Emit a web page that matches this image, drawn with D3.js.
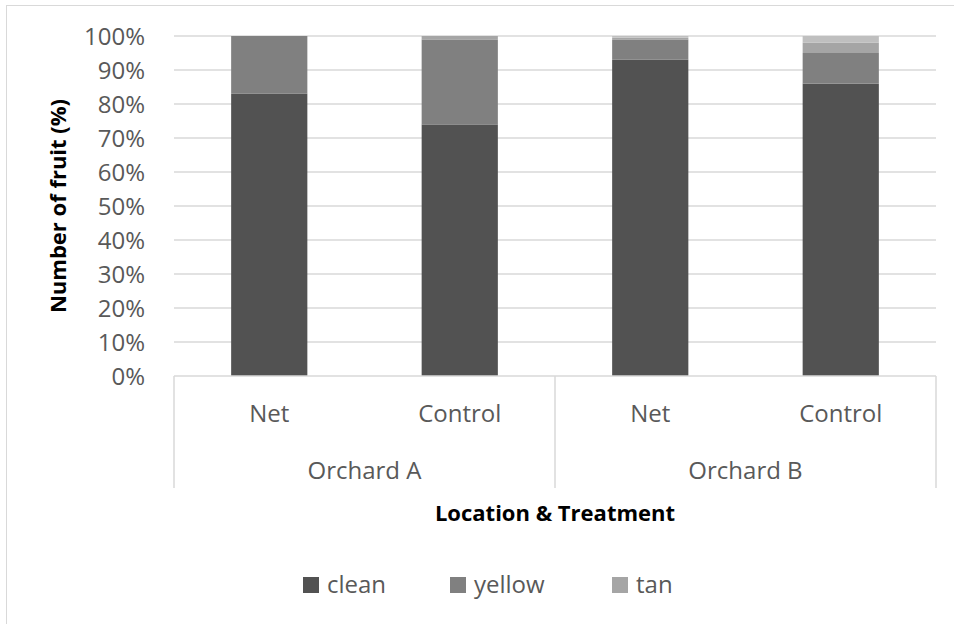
<!DOCTYPE html>
<html>
<head>
<meta charset="utf-8">
<script src="https://cdn.jsdelivr.net/npm/d3@7/dist/d3.min.js"></script>
<style>
  html, body { margin: 0; padding: 0; background: #fff; }
  svg { display: block; font-family: "Open Sans", sans-serif; }
</style>
</head>
<body>
<svg id="chart" width="954" height="624"></svg>
<script>
// Fruit condition by orchard and treatment (share of fruit, %)
const orchards = ["Orchard A", "Orchard B"];
const treatments = ["Net", "Control"];
const seriesNames = ["clean", "yellow", "tan", "other"];
const legendNames = ["clean", "yellow", "tan"];
const seriesColors = ["#525252", "#808080", "#a5a5a5", "#bfbfbf"];

const clean  = [83, 74, 93, 86];
const yellow = [17, 25, 6, 9];
const tan    = [0, 1, 0.5, 3];
const other  = [0, 0, 0.5, 2];

const yTicks = [0, 10, 20, 30, 40, 50, 60, 70, 80, 90, 100];

// one row per bar: orchard × treatment
const rows = [];
orchards.forEach((o, i) => treatments.forEach((t, j) => {
  const k = i * treatments.length + j;
  rows.push({ key: o + "|" + t, orchard: o, treatment: t,
    clean: clean[k], yellow: yellow[k], tan: tan[k], other: other[k] });
}));

const svg = d3.select("#chart");
const W = 954, H = 624;
const plot = { left: 174, right: 936, top: 36, bottom: 376 };

// outer chart border
svg.append("rect")
  .attr("x", 6.5).attr("y", 5.5)
  .attr("width", W + 10).attr("height", H + 10)
  .attr("fill", "none").attr("stroke", "#d9d9d9").attr("stroke-width", 1);

const x = d3.scaleBand()
  .domain(rows.map(d => d.key))
  .range([plot.left, plot.right])
  .paddingInner(0.6).paddingOuter(0.3);

const xGroup = d3.scaleBand()
  .domain(orchards)
  .range([plot.left, plot.right]);

const y = d3.scaleLinear().domain([0, 100]).range([plot.bottom, plot.top]);

// gridlines
svg.append("g")
  .selectAll("line")
  .data(yTicks.filter(t => t > 0))
  .join("line")
  .attr("x1", plot.left).attr("x2", plot.right)
  .attr("y1", d => y(d)).attr("y2", d => y(d))
  .attr("stroke", "#d9d9d9").attr("stroke-width", 1.5);

// y tick labels
const yAxis = d3.axisLeft(y).tickValues(yTicks).tickFormat(d => d + "%").tickSize(0).tickPadding(0);
const gy = svg.append("g").attr("transform", `translate(${plot.left - 29},0)`).call(yAxis);
gy.select(".domain").remove();
gy.selectAll("text")
  .attr("fill", "#595959")
  .style("font-size", "24px")
  .style("font-family", "'Open Sans', sans-serif")
  .attr("dy", "0.34em");

// stacked bars
const stack = d3.stack().keys(seriesNames);
const stacked = stack(rows);
const color = d3.scaleOrdinal().domain(seriesNames).range(seriesColors);

svg.append("g")
  .selectAll("g")
  .data(stacked)
  .join("g")
  .attr("fill", d => color(d.key))
  .selectAll("rect")
  .data(d => d)
  .join("rect")
  .attr("x", d => x(d.data.key))
  .attr("width", x.bandwidth())
  .attr("y", d => y(d[1]))
  .attr("height", d => Math.max(0, y(d[0]) - y(d[1])));

// category axis: baseline and group separators
const axisG = svg.append("g").attr("stroke", "#d9d9d9").attr("stroke-width", 1.5);
axisG.append("line")
  .attr("x1", plot.left).attr("x2", plot.right)
  .attr("y1", y(0)).attr("y2", y(0));
const seps = [plot.left].concat(orchards.map(o => xGroup(o) + xGroup.bandwidth()));
axisG.selectAll("line.sep")
  .data(seps)
  .join("line")
  .attr("class", "sep")
  .attr("x1", d => d).attr("x2", d => d)
  .attr("y1", y(0)).attr("y2", 488);

// treatment labels
svg.append("g")
  .selectAll("text")
  .data(rows)
  .join("text")
  .attr("x", d => x(d.key) + x.bandwidth() / 2)
  .attr("y", 414)
  .attr("dy", "0.35em")
  .attr("text-anchor", "middle")
  .attr("fill", "#595959")
  .style("font-size", "24px")
  .text(d => d.treatment);

// orchard labels
svg.append("g")
  .selectAll("text")
  .data(orchards)
  .join("text")
  .attr("x", d => xGroup(d) + xGroup.bandwidth() / 2)
  .attr("y", 471)
  .attr("dy", "0.35em")
  .attr("text-anchor", "middle")
  .attr("fill", "#595959")
  .style("font-size", "24px")
  .text(d => d);

// axis titles
svg.append("text")
  .attr("x", (plot.left + plot.right) / 2)
  .attr("y", 513)
  .attr("dy", "0.35em")
  .attr("text-anchor", "middle")
  .attr("fill", "#000")
  .style("font-size", "22px")
  .style("font-weight", "bold")
  .text("Location & Treatment");

svg.append("text")
  .attr("transform", `translate(58,${(plot.top + plot.bottom) / 2}) rotate(-90)`)
  .attr("dy", "0.35em")
  .attr("text-anchor", "middle")
  .attr("fill", "#000")
  .style("font-size", "22px")
  .style("font-weight", "bold")
  .text("Number of fruit (%)");

// legend
const legendX = [303, 450, 612];
const legend = svg.append("g")
  .selectAll("g")
  .data(legendNames)
  .join("g")
  .attr("transform", (d, i) => `translate(${legendX[i]},577)`);
legend.append("rect")
  .attr("width", 16).attr("height", 16)
  .attr("fill", d => color(d));
legend.append("text")
  .attr("x", 24).attr("y", 8)
  .attr("dy", "0.35em")
  .attr("fill", "#595959")
  .style("font-size", "24px")
  .text(d => d);
</script>
</body>
</html>
